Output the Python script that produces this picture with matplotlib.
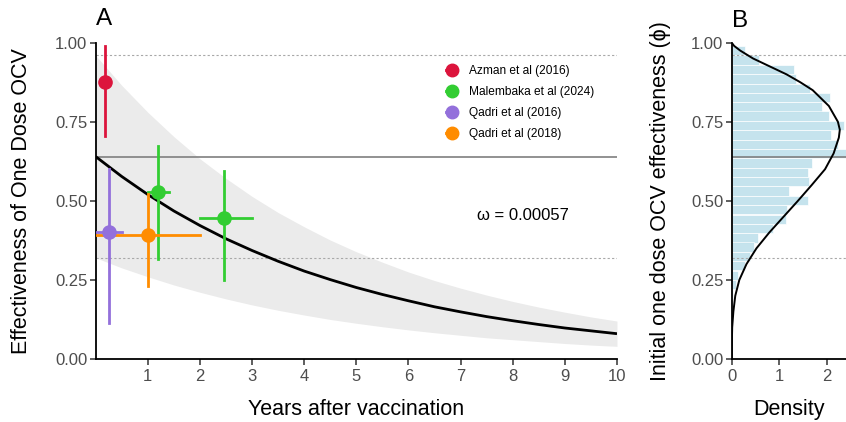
import matplotlib
matplotlib.use('Agg')
import matplotlib.pyplot as plt
from matplotlib.lines import Line2D

plt.rcParams['font.family'] = ['Liberation Sans', 'DejaVu Sans']

# waning curve (years after vaccination)
years = [0.0, 0.5, 1.0, 1.5, 2.0, 2.5, 3.0, 3.5, 4.0, 4.5, 5.0,
         5.5, 6.0, 6.5, 7.0, 7.5, 8.0, 8.5, 9.0, 9.5, 10.0]
ve_mean = [0.640, 0.577, 0.520, 0.468, 0.422, 0.380, 0.343, 0.309, 0.278, 0.251, 0.226,
           0.204, 0.184, 0.165, 0.149, 0.134, 0.121, 0.109, 0.098, 0.089, 0.080]
ve_upper = [0.960, 0.865, 0.780, 0.703, 0.633, 0.571, 0.514, 0.463, 0.418, 0.376, 0.339,
            0.306, 0.275, 0.248, 0.224, 0.202, 0.182, 0.164, 0.148, 0.133, 0.120]
ve_lower = [0.320, 0.288, 0.260, 0.234, 0.211, 0.190, 0.171, 0.154, 0.139, 0.125, 0.113,
            0.102, 0.092, 0.083, 0.075, 0.067, 0.061, 0.055, 0.049, 0.044, 0.040]

# study estimates
study_names = ['Azman et al (2016)', 'Malembaka et al (2024)', 'Qadri et al (2016)', 'Qadri et al (2018)']
study_colors = ['#DC143C', '#32CD32', '#9370DB', '#FF8C00']
pt_study = [0, 1, 1, 2, 3]
pt_t = [0.18, 1.2, 2.47, 0.25, 1.0]
pt_t_lo = [0.18, 1.0, 2.0, 0.0, 0.0]
pt_t_hi = [0.18, 1.4, 3.0, 0.5, 2.0]
pt_ve = [0.875, 0.527, 0.447, 0.40, 0.392]
pt_ve_lo = [0.705, 0.315, 0.25, 0.113, 0.231]
pt_ve_hi = [0.99, 0.674, 0.594, 0.60, 0.521]

phi_med = 0.64
phi_lo = 0.32
phi_hi = 0.96
omega = 0.00057

# posterior histogram of phi (panel B)
bin_width = 0.0296
bin_lo = [0.960, 0.930, 0.900, 0.871, 0.841, 0.812, 0.782, 0.753, 0.723, 0.693,
          0.664, 0.634, 0.605, 0.575, 0.546, 0.516, 0.487, 0.457, 0.427, 0.398,
          0.368, 0.339, 0.309, 0.280, 0.250, 0.221, 0.191]
bin_density = [0.28, 0.57, 1.31, 1.36, 1.65, 2.07, 1.89, 2.05, 2.36, 2.09,
               2.24, 2.5, 1.68, 1.61, 1.63, 1.21, 1.61, 1.16, 1.13, 0.87,
               0.56, 0.46, 0.38, 0.28, 0.13, 0.08, 0.03]

# prior density curve
prior_phi = [0.0, 0.05, 0.10, 0.15, 0.20, 0.25, 0.30, 0.35, 0.40, 0.45, 0.50, 0.55, 0.60,
             0.65, 0.70, 0.725, 0.75, 0.80, 0.85, 0.875, 0.90, 0.925, 0.95, 0.975, 0.99, 1.0]
prior_dens = [0.0, 0.003, 0.01, 0.035, 0.075, 0.16, 0.31, 0.52, 0.79, 1.09, 1.39, 1.68, 1.96,
              2.14, 2.25, 2.27, 2.23, 2.04, 1.70, 1.44, 1.15, 0.80, 0.45, 0.18, 0.05, 0.0]

tick_col = '#4D4D4D'
title_size = 15.5


def style_axis(ax):
    for s in ['top', 'right']:
        ax.spines[s].set_visible(False)
    for s in ['left', 'bottom']:
        ax.spines[s].set_linewidth(1.3)
        ax.spines[s].set_color('black')
    ax.tick_params(length=4.5, width=1.1, color='#333333', labelcolor=tick_col,
                   labelsize=12)
    ax.tick_params(axis='y', pad=1.5)
    ax.tick_params(axis='x', pad=2.5)


fig = plt.figure(figsize=(8.46, 4.22), dpi=100)

# ---- panel A
ax = fig.add_axes([0.1131, 0.1493, 0.6162, 0.7495])
ax.fill_between(years, ve_lower, ve_upper, color='#EBEBEB', lw=0, zorder=1)
for v in [phi_hi, phi_lo]:
    ax.axhline(v, color='#A8A8A8', ls=(0, (2, 2)), lw=0.8, zorder=2)
ax.axhline(phi_med, color='#7F7F7F', lw=1.2, zorder=2)
ax.plot(years, ve_mean, color='black', lw=2.0, zorder=3, solid_capstyle='butt')

for i in range(len(pt_t)):
    c = study_colors[pt_study[i]]
    ax.plot([pt_t[i], pt_t[i]], [pt_ve_lo[i], pt_ve_hi[i]], color=c, lw=2, zorder=4)
    ax.plot([pt_t_lo[i], pt_t_hi[i]], [pt_ve[i], pt_ve[i]], color=c, lw=2, zorder=4)
    ax.plot(pt_t[i], pt_ve[i], 'o', color=c, ms=9.5, zorder=5, clip_on=False)

ax.set_xlim(0, 10)
ax.set_ylim(0, 1)
ax.set_xticks(range(1, 11))
ax.set_yticks([0, 0.25, 0.5, 0.75, 1.0])
ax.set_yticklabels(['0.00', '0.25', '0.50', '0.75', '1.00'])
style_axis(ax)
ax.text(8.2, 0.455, 'ω = 0.00057', ha='center', va='center', fontsize=12)

handles = [Line2D([0], [0], color=c, marker='o', ms=9, lw=2) for c in study_colors]
ax.legend(handles, study_names, loc='upper left', bbox_to_anchor=(0.652, 0.962),
          frameon=False, fontsize=8.6, handlelength=0.9, handletextpad=1.0,
          labelspacing=0.75)

fig.text(0.4213, 0.016, 'Years after vaccination', ha='center', va='baseline',
         fontsize=title_size)
fig.text(0.026, 0.524, 'Effectiveness of One Dose OCV', rotation=90,
         ha='center', va='center', fontsize=title_size)
fig.text(0.114, 0.941, 'A', fontsize=17.5)

# ---- panel B
axb = fig.add_axes([0.8649, 0.1493, 0.1351, 0.7495])
centers = [b + bin_width / 2 for b in bin_lo]
axb.barh(centers, bin_density, height=bin_width, color='lightblue', alpha=0.7,
         edgecolor='white', linewidth=0.7, zorder=1)
for v in [phi_hi, phi_lo]:
    axb.axhline(v, color='#A8A8A8', ls=(0, (2, 2)), lw=0.8, zorder=2)
axb.axhline(phi_med, color='#7F7F7F', lw=1.2, zorder=2)
axb.plot(prior_dens, prior_phi, color='black', lw=1.4, zorder=3)
axb.set_xlim(0, 2.4)
axb.set_ylim(0, 1)
axb.set_xticks([0, 1, 2])
axb.set_yticks([0, 0.25, 0.5, 0.75, 1.0])
axb.set_yticklabels(['0.00', '0.25', '0.50', '0.75', '1.00'])
style_axis(axb)
fig.text(0.9325, 0.016, 'Density', ha='center', va='baseline', fontsize=title_size)
fig.text(0.781, 0.524, 'Initial one dose OCV effectiveness (ϕ)', rotation=90,
         ha='center', va='center', fontsize=title_size)
fig.text(0.865, 0.937, 'B', fontsize=17.5)

fig.savefig('out.png', dpi=100)
